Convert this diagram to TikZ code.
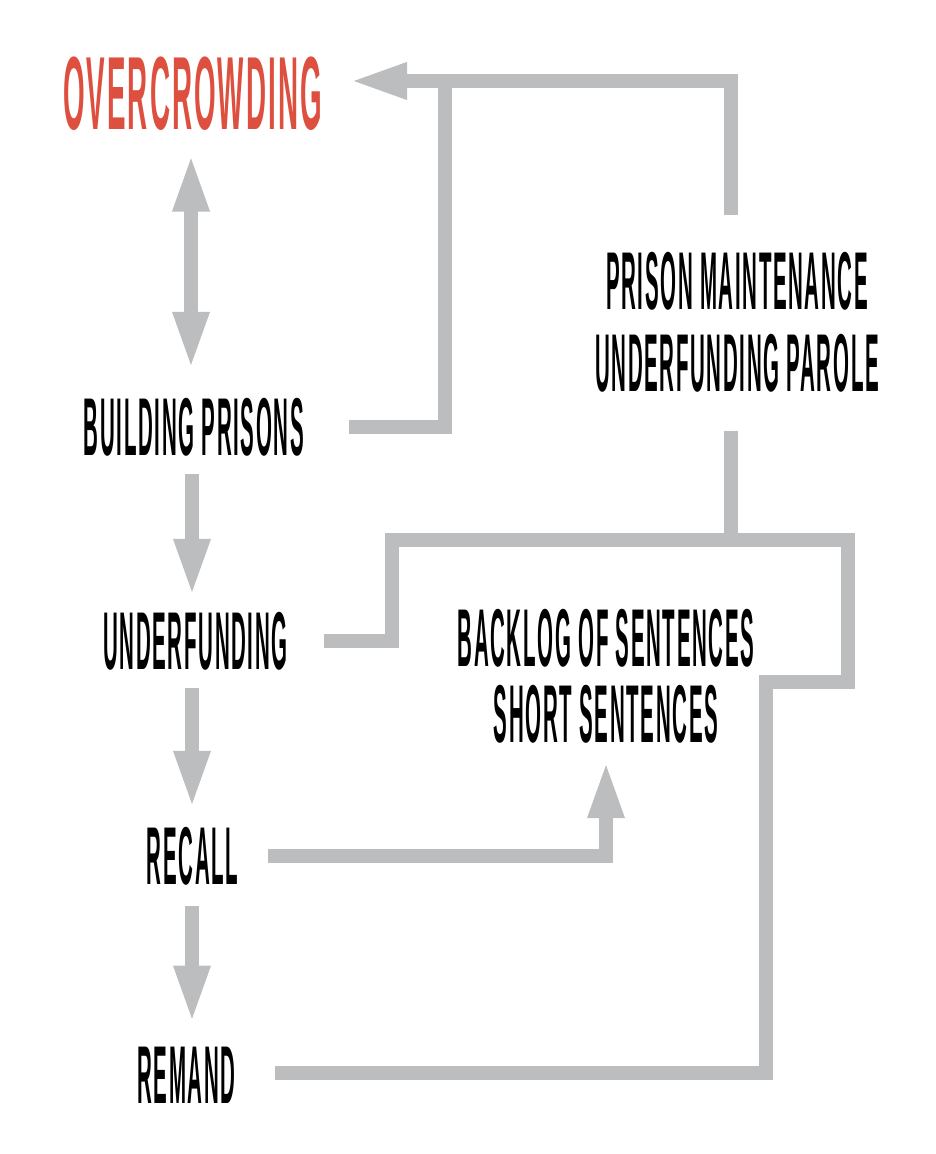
\documentclass[tikz,border=0pt]{standalone}
\usepackage{fontspec}
\usetikzlibrary{arrows.meta,calc}
\newfontfamily\boxfont{Liberation Sans Bold}[FakeStretch=0.25, LetterSpace=2]
\newfontfamily\headfont{Liberation Sans Bold}[FakeStretch=0.267, LetterSpace=2]

\begin{document}
\begin{tikzpicture}[
  x=1pt,
  y=-1pt,
  link/.style={draw=linkgray, line width=14pt, line join=miter},
  head/.style={-{Triangle[length=58pt,width=33pt]}},
  twohead/.style={{Triangle[length=58pt,width=33pt]}-{Triangle[length=58pt,width=33pt]}},
  box/.style={inner sep=0pt, align=center, font={\boxfont\fontsize{82}{82}\selectfont}},
  every node/.style={text=black}
]
\definecolor{linkgray}{RGB}{188,189,191}
\definecolor{headred}{RGB}{221,79,63}

\useasboundingbox (0,0) rectangle (936,1154);

% left column of causes
\node[box, text=headred, font={\headfont\fontsize{104}{104}\selectfont}] (over) at (192.5,93.5) {OVERCROWDING};
\node[box] (build)     at (194,427)   {BUILDING PRISONS};
\node[box] (underfund) at (195.5,641) {UNDERFUNDING};
\node[box] (recall)    at (192.5,856) {RECALL};
\node[box] (remand)    at (186.5,1075) {REMAND};

% right column
\node[box] (maint) at (737,322) {PRISON MAINTENANCE\\UNDERFUNDING PAROLE};
\node[box, font={\boxfont\fontsize{82}{76}\selectfont}] (backlog) at (606,676)
  {BACKLOG OF SENTENCES\\SHORT SENTENCES};

% junctions and free ends of the grey feedback lines
\coordinate (overin)  at (349,81);
\coordinate (jtop)    at (445,81);
\coordinate (mainttop) at (731,215);
\coordinate (maintbot) at (731,431);
\coordinate (jmid)    at (731,540);
\coordinate (step1)   at (392,540);
\coordinate (step2)   at (848,682);
\coordinate (step3)   at (766,1073);
\coordinate (remin)   at (275,1073);

% vertical chain
\draw[link, twohead, shorten <=23pt, shorten >=28pt]
  (over.south -| 191,0) -- (build.north -| 191,0);
\draw[link, head, shorten <=18pt, shorten >=15pt]
  (build.south -| 192,0) -- (underfund.north -| 192,0);
\draw[link, head, shorten <=18pt, shorten >=18pt]
  (underfund.south -| 192,0) -- (recall.north -| 192,0);
\draw[link, head, shorten <=21pt, shorten >=23pt]
  (recall.south -| 192,0) -- (remand.north -| 192,0);

% feedback into overcrowding
\draw[link, head] ([xshift=45pt]build.east) -| (jtop) -- (overin);
\draw[link] (mainttop) |- (jtop);

% underfunding loop down to remand
\draw[link] ([xshift=36pt]underfund.east) -| (step1) -| (step2) -| (step3) -- (remin);
\draw[link] (maintbot) -- (jmid);

% recall feeds the backlog
\draw[link, head] ([xshift=30pt]recall.east) -| ([yshift=-17pt]backlog.south);
\end{tikzpicture}
\end{document}
